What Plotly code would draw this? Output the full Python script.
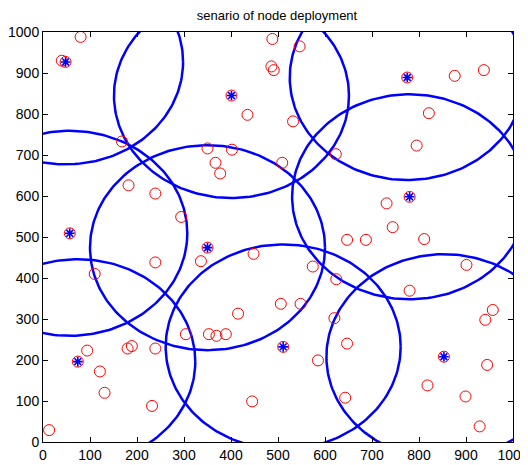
import numpy as np
import plotly.graph_objects as go

# sensor nodes (red circles)
node_x = [80, 40, 48, 435, 168, 350, 402, 367, 377, 182, 239, 294, 57, 401,
          488, 546, 486, 491, 775, 876, 938, 821, 532, 795, 623, 509, 780, 731,
          744, 647, 687, 811, 350, 448, 336, 239, 110, 415, 304, 353, 369, 389,
          94, 180, 189, 239, 74, 121, 131, 232, 445, 13, 901, 574, 624, 780,
          957, 941, 506, 548, 620, 647, 511, 853, 585, 945, 818, 899, 643, 929]
node_y = [988, 930, 927, 798, 733, 716, 713, 681, 655, 626, 606, 549, 509, 845,
          983, 965, 916, 907, 889, 893, 907, 802, 782, 723, 702, 681, 598, 582,
          524, 493, 493, 495, 474, 459, 441, 438, 410, 313, 263, 263, 259, 263,
          223, 228, 234, 228, 196, 172, 120, 88, 99, 29, 432, 428, 397, 369,
          322, 298, 337, 337, 302, 240, 232, 208, 199, 188, 138, 111, 108, 38]

# cluster heads (blue asterisks) and their coverage radius
head_x = [48, 57, 74, 401, 350, 511, 775, 780, 853]
head_y = [927, 509, 196, 845, 474, 232, 889, 598, 208]
radius = 250

title_text = "senario of node deployment"
tick_vals = list(range(0, 1001, 100))

fig = go.Figure()

# coverage circles: outline geometry derived from each head centre and the radius
theta = np.linspace(0, 2 * np.pi, 241)
for cx, cy in zip(head_x, head_y):
    fig.add_trace(go.Scatter(
        x=cx + radius * np.cos(theta), y=cy + radius * np.sin(theta),
        mode="lines", line=dict(color="#0000ff", width=2.5),
        showlegend=False, hoverinfo="skip"))

fig.add_trace(go.Scatter(
    x=node_x, y=node_y, mode="markers",
    marker=dict(symbol="circle-open", size=11, color="#ff0000",
                line=dict(width=1, color="#ff0000")),
    showlegend=False, hoverinfo="x+y"))

fig.add_trace(go.Scatter(
    x=head_x, y=head_y, mode="markers",
    marker=dict(symbol="asterisk-open", size=8, color="#0000ff",
                line=dict(width=1.6, color="#0000ff")),
    showlegend=False, hoverinfo="x+y"))

axis_common = dict(
    range=[0, 1000], tickvals=tick_vals, ticks="inside", ticklen=5,
    tickcolor="#000000", tickwidth=1, showline=True, linecolor="#000000",
    linewidth=1, mirror="ticks", showgrid=False, zeroline=False,
    automargin=False, ticklabeloverflow="allow",
    tickfont=dict(family="Liberation Sans, Arial, sans-serif", size=14, color="#000000"),
)

# the page places the figure 8 px in from the top-left corner
fig.update_layout(
    width=520, height=457,
    margin=dict(l=35, r=15, t=24, b=23),
    paper_bgcolor="#ffffff", plot_bgcolor="#ffffff",
    title=dict(text=title_text, x=269 / 520, xanchor="center", y=1 - 7 / 457,
               yanchor="middle", yref="container",
               font=dict(family="Liberation Sans, Arial, sans-serif", size=13,
                         color="#000000")),
    xaxis=dict(**axis_common),
    yaxis=dict(**axis_common),
)

fig.write_html("out.html")
